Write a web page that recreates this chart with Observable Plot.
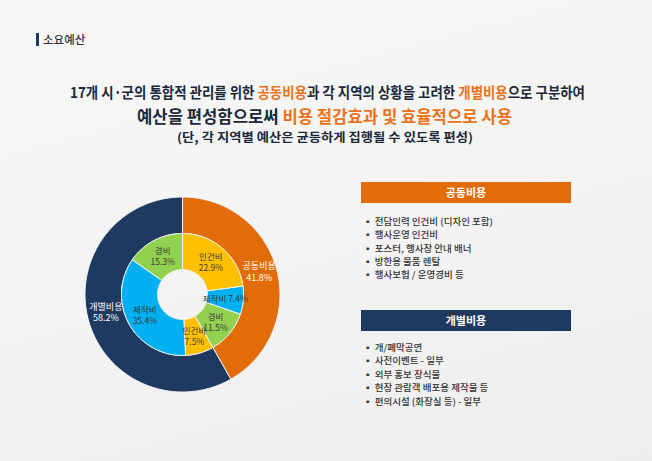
<!DOCTYPE html>
<html><head><meta charset="utf-8">
<script src="https://cdn.jsdelivr.net/npm/d3@7"></script>
<script src="https://cdn.jsdelivr.net/npm/@observablehq/plot@0.6"></script>
<style>
html,body{margin:0;padding:0;}
body{width:652px;height:461px;overflow:hidden;font-family:"Noto Sans CJK KR","Noto Sans",sans-serif;}
#page{position:relative;width:652px;height:461px;overflow:hidden;
  background:linear-gradient(165deg,#f7f7f7 0%,#f4f4f4 45%,#eeeeee 100%);}
.abs{position:absolute;white-space:nowrap;}
.ttl{font-weight:700;color:#1c2839;transform-origin:left center;}
.org{color:#ea7319;}
.box{position:absolute;left:361px;width:210px;height:21px;color:#fff;font-weight:700;font-size:11px;line-height:21px;text-align:center;}
.bul{position:absolute;left:363px;font-size:9px;height:12px;line-height:12px;color:#333;font-weight:500;white-space:nowrap;transform-origin:left center;}
#chart{position:absolute;left:72px;top:184px;}
</style></head><body>
<div id="page">
  <div class="abs" style="left:36px;top:33px;width:3px;height:13px;background:#1f3864;"></div>
  <div class="abs" style="left:43px;top:31px;height:16px;line-height:16px;font-size:11.5px;color:#333;font-weight:500;">소요예산</div>
  <div id="t1" class="abs ttl" style="left:70px;top:82.4px;height:20px;line-height:20px;font-size:15px;"></div>
  <div id="t2" class="abs ttl" style="left:137px;top:104.7px;height:22px;line-height:22px;font-size:17px;"></div>
  <div id="t3" class="abs ttl" style="left:177px;top:128.8px;height:16px;line-height:16px;font-size:12px;"></div>
  <div class="box" id="boxA" style="top:182px;background:#e36c0a;"></div>
  <div class="box" id="boxB" style="top:310px;background:#1f3a60;"></div>
  <div id="bullets"></div>
  <div id="chart"></div>
</div>
<script>
// ---- data ----
const groups = ["공동비용", "개별비용"];
const groupShares = [41.8, 58.2];
const itemNames = ["인건비", "제작비", "경비", "인건비", "제작비", "경비"];
const itemShares = [22.9, 7.4, 11.5, 7.5, 35.4, 15.3];
const commonItems = ["전담인력 인건비 (디자인 포함)", "행사운영 인건비", "포스터, 행사장 안내 배너", "방한용 물품 렌탈", "행사보험 / 운영경비 등"];
const individualItems = ["개/폐막공연", "사전이벤트 - 일부", "외부 홍보 장식물", "현장 관람객 배포용 제작물 등", "편의시설 (화장실 등) - 일부"];
const headline1 = ["17개 시·군의 통합적 관리를 위한 ", "공동비용", "과 각 지역의 상황을 고려한 ", "개별비용", "으로 구분하여"];
const headline2 = ["예산을 편성함으로써 ", "비용 절감효과 및 효율적으로 사용"];
const headline3 = "(단, 각 지역별 예산은 균등하게 집행될 수 있도록 편성)";

// ---- styles ----
const categories = ["공동비용", "개별비용", "인건비", "제작비", "경비"];
const palette = ["#e36c0a", "#1f3a60", "#ffc000", "#00b0f0", "#92d050"];

// ---- text ----
function fill(el, parts, orangeIdx) {
  parts.forEach((p, i) => {
    const s = document.createElement("span");
    s.textContent = p;
    if (orangeIdx.includes(i)) s.className = "org";
    el.appendChild(s);
  });
}
fill(document.getElementById("t1"), headline1, [1, 3]);
fill(document.getElementById("t2"), headline2, [1]);
document.getElementById("t3").textContent = headline3;
document.getElementById("boxA").textContent = groups[0];
document.getElementById("boxB").textContent = groups[1];
const bul = document.getElementById("bullets");
const bulEls = [];
commonItems.forEach((t, i) => {
  const d = document.createElement("div"); d.className = "bul";
  d.style.top = (216 + i * 13.3) + "px"; d.textContent = "▪ " + t; bul.appendChild(d); bulEls.push(d);
});
individualItems.forEach((t, i) => {
  const d = document.createElement("div"); d.className = "bul";
  d.style.top = (342 + i * 13.4) + "px"; d.textContent = "▪ " + t; bul.appendChild(d); bulEls.push(d);
});
function fit(el, w) { const cw = el.getBoundingClientRect().width; el.style.transform = `scaleX(${w / cw})`; return w / cw; }
fit(document.getElementById("t1"), 515);
fit(document.getElementById("t2"), 375);
fit(document.getElementById("t3"), 296);
const k = 130 / bulEls[0].getBoundingClientRect().width;
bulEls.forEach(e => e.style.transform = `scaleX(${k})`);

// ---- donut ----
const R_HOLE = 25, R_MID = 61, R_OUT = 97.5;
function ring(names, shares, r0, r1, tag) {
  const pts = [], labels = [];
  let acc = 0;
  names.forEach((name, i) => {
    const a0 = acc / 100 * 2 * Math.PI, a1 = (acc + shares[i]) / 100 * 2 * Math.PI;
    const n = Math.max(2, Math.ceil((a1 - a0) / (Math.PI / 180)));
    const id = tag + i;
    for (let j = 0; j <= n; j++) { const a = a0 + (a1 - a0) * j / n; pts.push({id, cat: name, x: r1 * Math.sin(a), y: r1 * Math.cos(a)}); }
    for (let j = n; j >= 0; j--) { const a = a0 + (a1 - a0) * j / n; pts.push({id, cat: name, x: r0 * Math.sin(a), y: r0 * Math.cos(a)}); }
    const am = (a0 + a1) / 2, rm = (r0 + r1) / 2;
    labels.push({name, share: shares[i], x: rm * Math.sin(am), y: rm * Math.cos(am)});
    acc += shares[i];
  });
  return {pts, labels};
}
const outer = ring(groups, groupShares, R_MID, R_OUT, "g");
const inner = ring(itemNames, itemShares, R_HOLE, R_MID, "i");
const fmt = d => d.share.toFixed(1) + "%";
const chart = Plot.plot({
  width: 220, height: 220, margin: 0,
  style: {background: "transparent", fontFamily: "'Noto Sans CJK KR', sans-serif"},
  x: {domain: [-110, 110], axis: null},
  y: {domain: [-110, 110], axis: null},
  color: {domain: categories, range: palette},
  marks: [
    Plot.line(outer.pts.concat(inner.pts), {x: "x", y: "y", z: "id", fill: "cat", stroke: "#f4f4f4", strokeWidth: 1, curve: "linear-closed"}),
    Plot.text(outer.labels, {x: "x", y: "y", dy: -3, text: d => d.name + "\n" + fmt(d), fill: "white", fontSize: 9, lineHeight: 1.3}),
    Plot.text(inner.labels, {x: "x", y: "y", text: d => d.share < 10 && d.name === "제작비" ? d.name + " " + fmt(d) : d.name + "\n" + fmt(d), fill: "#3a3a3a", fontSize: 8.5, lineHeight: 1.3})
  ]
});
document.getElementById("chart").appendChild(chart);
</script>
</body></html>
